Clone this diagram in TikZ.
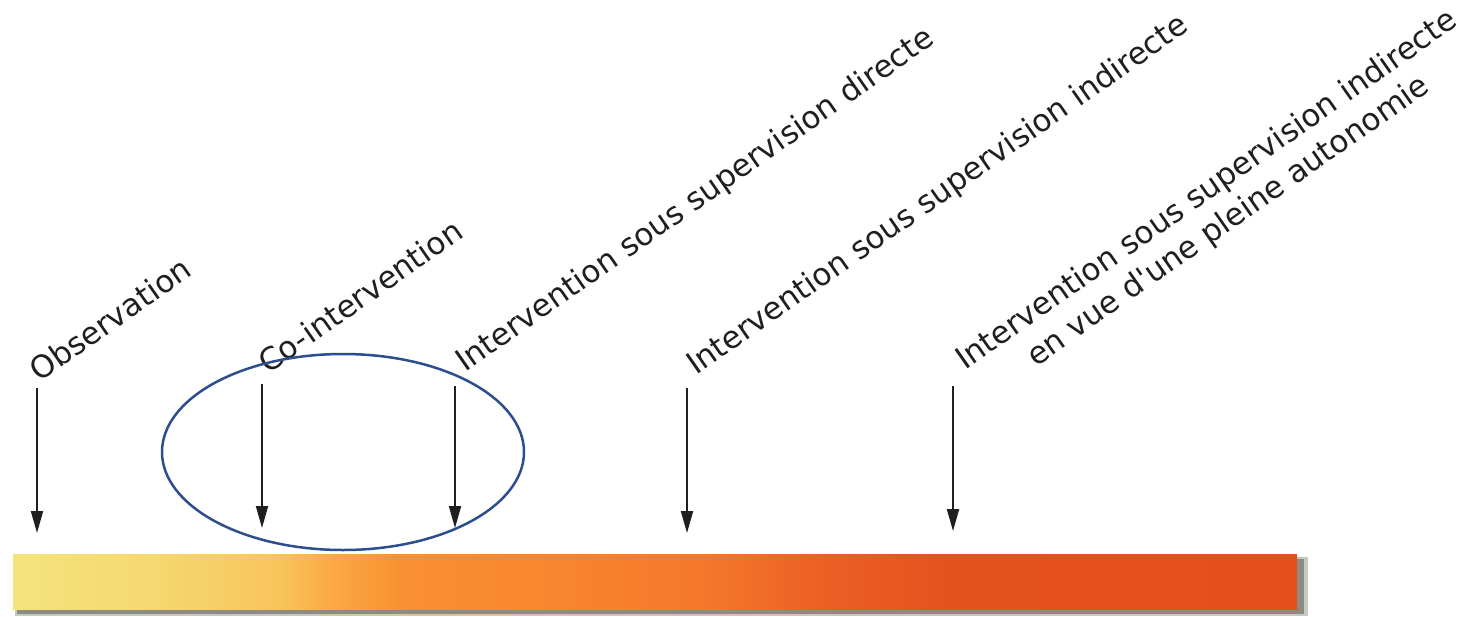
\documentclass[tikz,border=0pt]{standalone}
\usepackage{fontspec}
\setmainfont{DejaVu Sans}[Ligatures=TeXOff]
\usetikzlibrary{arrows.meta}
\definecolor{ellblue}{HTML}{2C4D8E}
\definecolor{shadowgrey}{HTML}{8C8C84}
\definecolor{shadowlight}{HTML}{C8C8C2}
\definecolor{c0}{HTML}{F4E47D}
\definecolor{c1}{HTML}{F5D970}
\definecolor{c2}{HTML}{F8C45C}
\definecolor{c3}{HTML}{FBAA45}
\definecolor{c4}{HTML}{F99032}
\definecolor{c5}{HTML}{F8862F}
\definecolor{c6}{HTML}{F5782B}
\definecolor{c7}{HTML}{EC6024}
\definecolor{c8}{HTML}{E4521E}
\definecolor{c9}{HTML}{E4501C}
\pgfdeclarehorizontalshading{barshade}{100bp}{color(0bp)=(c0); color(25bp)=(c0); color(30.3bp)=(c1); color(35.4bp)=(c2); color(37.3bp)=(c3); color(40.1bp)=(c4); color(45.9bp)=(c5); color(51.75bp)=(c6); color(56.4bp)=(c7); color(61.5bp)=(c8); color(75bp)=(c9); color(100bp)=(c9)}
\begin{document}
\begin{tikzpicture}[x=1pt,y=-1pt,
  lab/.style={rotate=35, anchor=base west, inner sep=0pt, font=\fontsize{31}{37.5}\selectfont, text=black!88},
  pointer/.style={line width=2pt, black!88, -{Triangle[length=22pt,width=12pt]}}]
\useasboundingbox (0,0) rectangle (1466,616);
\fill[white] (0,0) rectangle (1466,616);
% bar with shadow
\fill[shadowlight] (15,557) rectangle (1308,616);
\fill[shadowgrey] (17,559) rectangle (1304,614);
\shade[shading=barshade] (13,554) rectangle (1297,609);
% labels
\node[lab] (obs) at (39,383) {Observation};
\node[lab] (coint) at (268,375) {Co-intervention};
\node[lab] (dir) at (465,373) {Intervention sous supervision directe};
\node[lab] (indir) at (696,376) {Intervention sous supervision indirecte};
\node[lab] (auto) at (965,371) {\begin{tabular}[t]{@{}c@{}}Intervention sous supervision indirecte\\en vue d'une pleine autonomie\end{tabular}};
% arrows
\coordinate (s1) at (37,388);  \coordinate (e1) at (37,533);
\coordinate (s2) at (262,384); \coordinate (e2) at (262,528);
\coordinate (s3) at (455,386); \coordinate (e3) at (455,528);
\coordinate (s4) at (687,388); \coordinate (e4) at (687,533);
\coordinate (s5) at (953,386); \coordinate (e5) at (953,531);
\foreach \i in {1,...,5} \draw[pointer] (s\i) -- (e\i);
% ellipse
\draw[ellblue, line width=2.5pt] (343,452) ellipse [x radius=181pt, y radius=98pt];
\end{tikzpicture}
\end{document}
